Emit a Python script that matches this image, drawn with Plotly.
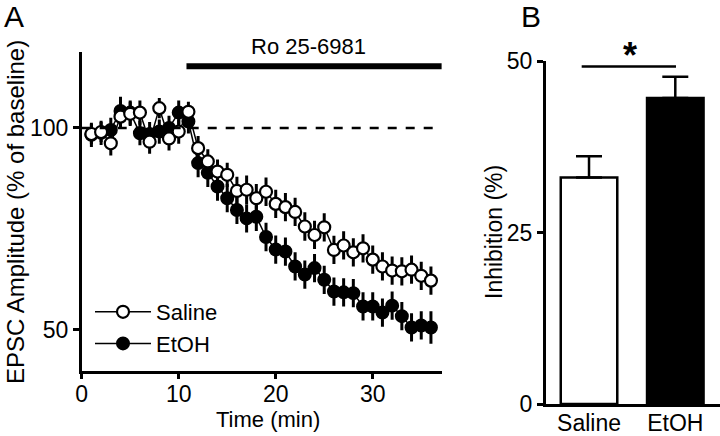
import plotly.graph_objects as go

# ---------------- data ----------------
time_min = list(range(1, 37))
saline = [98.5, 99.0, 96.2, 102.8, 103.5, 103.8, 96.6, 104.9, 97.4, 99.1, 104.0,
          95.0, 91.7, 89.2, 88.4, 84.4, 84.7, 82.6, 84.2, 81.2, 80.4, 79.2, 75.6,
          73.5, 75.4, 69.8, 70.9, 69.2, 70.2, 67.4, 65.7, 64.7, 64.5, 64.9, 63.4, 62.2]
saline_err = [2.5, 2.5, 3.0, 3.0, 3.0, 3.0, 3.0, 2.5, 3.0, 3.0, 2.5,
              3.0, 3.0, 3.0, 3.0, 3.5, 3.5, 3.5, 3.5, 3.5, 3.5, 3.5, 3.5,
              3.5, 3.5, 3.5, 3.5, 3.5, 3.5, 3.5, 3.5, 3.5, 3.5, 3.5, 3.5, 3.5]
etoh = [98.3, 98.8, 99.5, 104.2, 103.8, 98.7, 98.5, 99.1, 100.0, 103.8, 101.6,
        91.3, 88.9, 85.5, 82.6, 79.7, 77.6, 78.0, 73.0, 69.9, 69.4, 65.7, 63.7,
        65.3, 62.4, 59.5, 59.3, 59.1, 55.8, 55.8, 54.3, 56.0, 53.4, 50.6, 51.1, 50.6]
etoh_err = [3.0, 3.0, 3.0, 3.5, 3.0, 3.0, 3.0, 3.0, 3.0, 3.0, 3.0,
            3.5, 3.5, 3.5, 3.5, 3.5, 3.5, 3.5, 3.5, 3.5, 3.5, 3.5, 3.5,
            3.5, 3.5, 3.5, 3.5, 3.5, 3.5, 3.5, 3.5, 3.5, 3.5, 3.5, 3.5, 4.0]

groups = ["Saline", "EtOH"]
inhibition = [33.0, 44.6]
inhibition_err = [3.1, 3.1]

drug_label = "Ro 25-6981"
drug_start, drug_end, drug_level = 10.8, 37.1, 115.3
sig_y = 49.2

FONT = "Liberation Sans, Arial, sans-serif"
W, H = 720, 436

def px_x(p):
    return p / W

def px_y(p):
    return (H - p) / H

fig = go.Figure()

fig.add_trace(go.Scatter(
    x=time_min, y=etoh, name="EtOH", mode="lines+markers",
    line=dict(color="black", width=1.5),
    marker=dict(symbol="circle", size=12, color="black", line=dict(color="black", width=2)),
    error_y=dict(type="data", array=etoh_err, color="black", thickness=3, width=0),
    xaxis="x", yaxis="y", legendrank=2,
))
fig.add_trace(go.Scatter(
    x=time_min, y=saline, name="Saline", mode="lines+markers",
    line=dict(color="black", width=1.5),
    marker=dict(symbol="circle", size=12, color="white", line=dict(color="black", width=2.2)),
    error_y=dict(type="data", array=saline_err, color="black", thickness=3, width=0),
    xaxis="x", yaxis="y", legendrank=1,
))

fig.add_trace(go.Bar(
    x=groups, y=inhibition,
    marker=dict(color=["white", "black"], line=dict(color="black", width=2.5)),
    width=0.655,
    error_y=dict(type="data", array=inhibition_err, arrayminus=[0, 0], symmetric=False,
                 color="black", thickness=2.5, width=13),
    xaxis="x2", yaxis="y2", showlegend=False,
))

axis_common = dict(showgrid=False, zeroline=False, showline=True, linecolor="black",
                   linewidth=2.5, ticks="outside", ticklen=6, tickwidth=2.5,
                   tickcolor="black", automargin=False,
                   tickfont=dict(family=FONT, size=23, color="black"))

fig.update_layout(
    template="none",
    width=W, height=H,
    margin=dict(l=0, r=0, t=0, b=0, pad=0, autoexpand=False),
    paper_bgcolor="white", plot_bgcolor="white",
    font=dict(family=FONT, size=23, color="black"),
    xaxis=dict(domain=[px_x(81.7), px_x(442)], range=[0, 37.14],
               tickvals=[0, 10, 20, 30], anchor="y", ticklabelstandoff=-5, **axis_common),
    yaxis=dict(domain=[px_y(370.7), px_y(52)], range=[39.9, 118.8],
               tickvals=[50, 100], anchor="x", **axis_common),
    xaxis2=dict(domain=[px_x(545.7), 1.0], range=[-0.502, 1.518],
                anchor="y2", ticklabelstandoff=-3, **{**axis_common, "ticks": ""}),
    yaxis2=dict(domain=[px_y(404), px_y(61)], range=[0, 50],
                tickvals=[0, 25, 50], anchor="x2", **axis_common),
    legend=dict(x=px_x(90), y=px_y(291), xanchor="left", yanchor="top",
                bgcolor="rgba(0,0,0,0)", font=dict(family=FONT, size=22),
                tracegroupgap=0, itemwidth=56, borderwidth=0),
    showlegend=True,
)

# baseline dashed line and drug bar
fig.add_shape(type="line", xref="x", yref="y", x0=0, x1=37.1, y0=100, y1=100,
              line=dict(color="black", width=2.5, dash="dash"))
fig.add_shape(type="line", xref="x", yref="y", x0=drug_start, x1=drug_end,
              y0=drug_level, y1=drug_level, line=dict(color="black", width=6))
fig.add_annotation(xref="x", yref="y", x=(drug_start + drug_end) / 2, y=drug_level,
                   yshift=20, xshift=-6, text=drug_label, showarrow=False,
                   xanchor="center", yanchor="middle",
                   font=dict(family=FONT, size=22))

# significance
fig.add_shape(type="line", xref="x2", yref="y2", x0=-0.085, x1=1.008, y0=sig_y, y1=sig_y,
              line=dict(color="black", width=2.5))
fig.add_annotation(xref="x2", yref="y2", x=0.48, y=sig_y, yshift=11, text="<b>*</b>",
                   showarrow=False, xanchor="center", yanchor="middle",
                   font=dict(family=FONT, size=36))

def label(x, y, text, size, angle=0):
    fig.add_annotation(xref="paper", yref="paper", x=px_x(x), y=px_y(y), text=text,
                       textangle=angle, showarrow=False, xanchor="center",
                       yanchor="middle", font=dict(family=FONT, size=size))

label(268, 419, "Time (min)", 22)
label(15, 212, "EPSC Amplitude (% of baseline)", 24, -90)
label(494, 232, "Inhibition (%)", 23, -90)
label(14, 16, "A", 30)
label(531, 16, "B", 30)

fig.write_html("out.html", config={"displayModeBar": False},
               post_script="document.body.style.margin='0';")
